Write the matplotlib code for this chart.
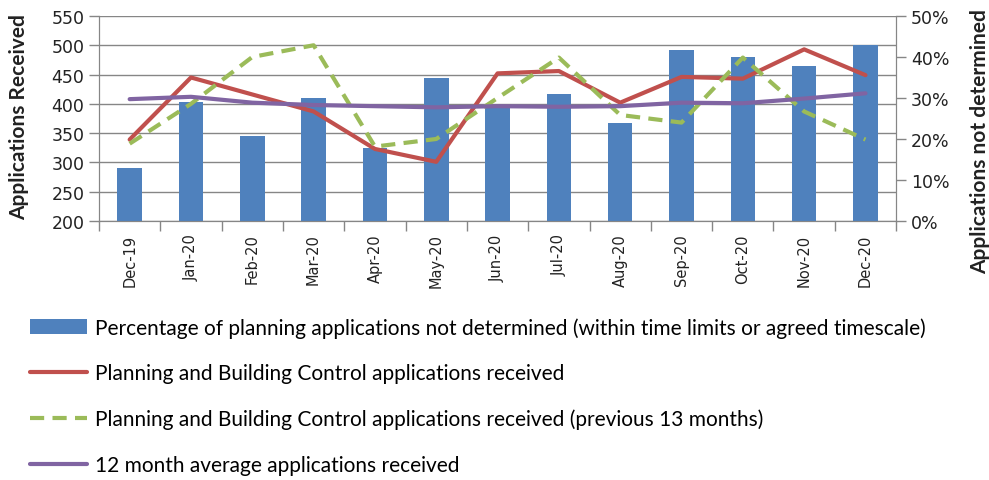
import matplotlib.pyplot as plt
from matplotlib.ticker import PercentFormatter, MultipleLocator, FixedLocator

months = ['Dec-19', 'Jan-20', 'Feb-20', 'Mar-20', 'Apr-20', 'May-20', 'Jun-20',
          'Jul-20', 'Aug-20', 'Sep-20', 'Oct-20', 'Nov-20', 'Dec-20']

# percentage not determined (right axis)
pct_not_determined = [0.129, 0.289, 0.208, 0.299, 0.179, 0.348, 0.278,
                      0.310, 0.239, 0.418, 0.400, 0.379, 0.429]
# applications received (left axis)
received = [339, 445, 416, 387, 323, 301, 452, 456, 402, 446, 443, 493, 449]
received_prev = [332, 400, 480, 500, 327, 340, 410, 479, 381, 368, 479, 387, 339]
avg_12m = [408, 412, 402, 398, 396, 394, 396, 395, 396, 402, 401, 409, 418]

labels = ['Percentage of planning applications not determined (within time limits or agreed timescale)',
          'Planning and Building Control applications received',
          'Planning and Building Control applications received (previous 13 months)',
          '12 month average applications received']

grey = '#868686'
txt = '#222222'
font = 'Lato'

fig = plt.figure(figsize=(9.89, 4.81), dpi=100)
pos = [0.1001, 0.5385, 0.806, 0.4262]

# left axis: grid + ticks
ax = fig.add_axes(pos)
x = list(range(len(months)))
ax.set_xlim(-0.5, len(months) - 0.5)
ax.set_ylim(200, 550)
ax.yaxis.set_major_locator(MultipleLocator(50))
ax.grid(axis='y', color=grey, lw=1.0)
ax.set_xticks(x)
ax.set_xticklabels(months, rotation=90, fontsize=10.5, color=txt)
ax.xaxis.set_minor_locator(FixedLocator([i - 0.5 for i in range(len(months) + 1)]))
ax.tick_params(axis='x', which='major', length=0, pad=9)
ax.tick_params(axis='x', which='minor', length=7, color=grey, width=1)
ax.tick_params(axis='y', length=7, color=grey, width=1, labelsize=12.5, labelcolor=txt)
for s in ['left', 'bottom', 'right']:
    ax.spines[s].set_color(grey)
ax.spines['top'].set_visible(False)
ax.set_ylabel('Applications Received', fontsize=15, fontweight='bold',
              family=font, color=txt)
ax.yaxis.set_label_coords(-0.088, 0.51)

# right axis: bars
ax2 = ax.twinx()
ax2.set_ylim(0, 0.5)
ax2.yaxis.set_major_locator(MultipleLocator(0.1))
ax2.yaxis.set_major_formatter(PercentFormatter(1.0, decimals=0))
bars = ax2.bar(x, pct_not_determined, width=0.4, color='#4F81BD', zorder=2)
ax2.tick_params(axis='y', length=7, color=grey, width=1, labelsize=12.5, labelcolor=txt)
for s in ['left', 'bottom', 'right']:
    ax2.spines[s].set_color(grey)
ax2.spines['top'].set_visible(False)
ax2.set_ylabel('Applications not determined', fontsize=15, fontweight='bold',
               family=font, color=txt)
ax2.yaxis.set_label_coords(1.093, 0.39)

# lines on top, sharing the left scale
ax3 = fig.add_axes(pos, sharex=ax, sharey=ax)
ax3.axis('off')
ax3.patch.set_visible(False)
ax2.set_zorder(1)
ax3.set_zorder(2)
l1, = ax3.plot(x, received, color='#C0504D', lw=3.0, solid_capstyle='round')
l2, = ax3.plot(x, received_prev, color='#9BBB59', lw=3.0, ls=(0, (3.4, 2.0)))
l3, = ax3.plot(x, avg_12m, color='#8064A2', lw=3.0, solid_capstyle='round')

fig.legend([bars, l1, l2, l3], labels, loc='upper left',
           bbox_to_anchor=(0.03, 0.338), frameon=False,
           prop={'family': font, 'size': 15}, labelspacing=1.22,
           handlelength=2.75, handletextpad=0.4, borderpad=0, borderaxespad=0)

fig.savefig('out.png', dpi=100)
